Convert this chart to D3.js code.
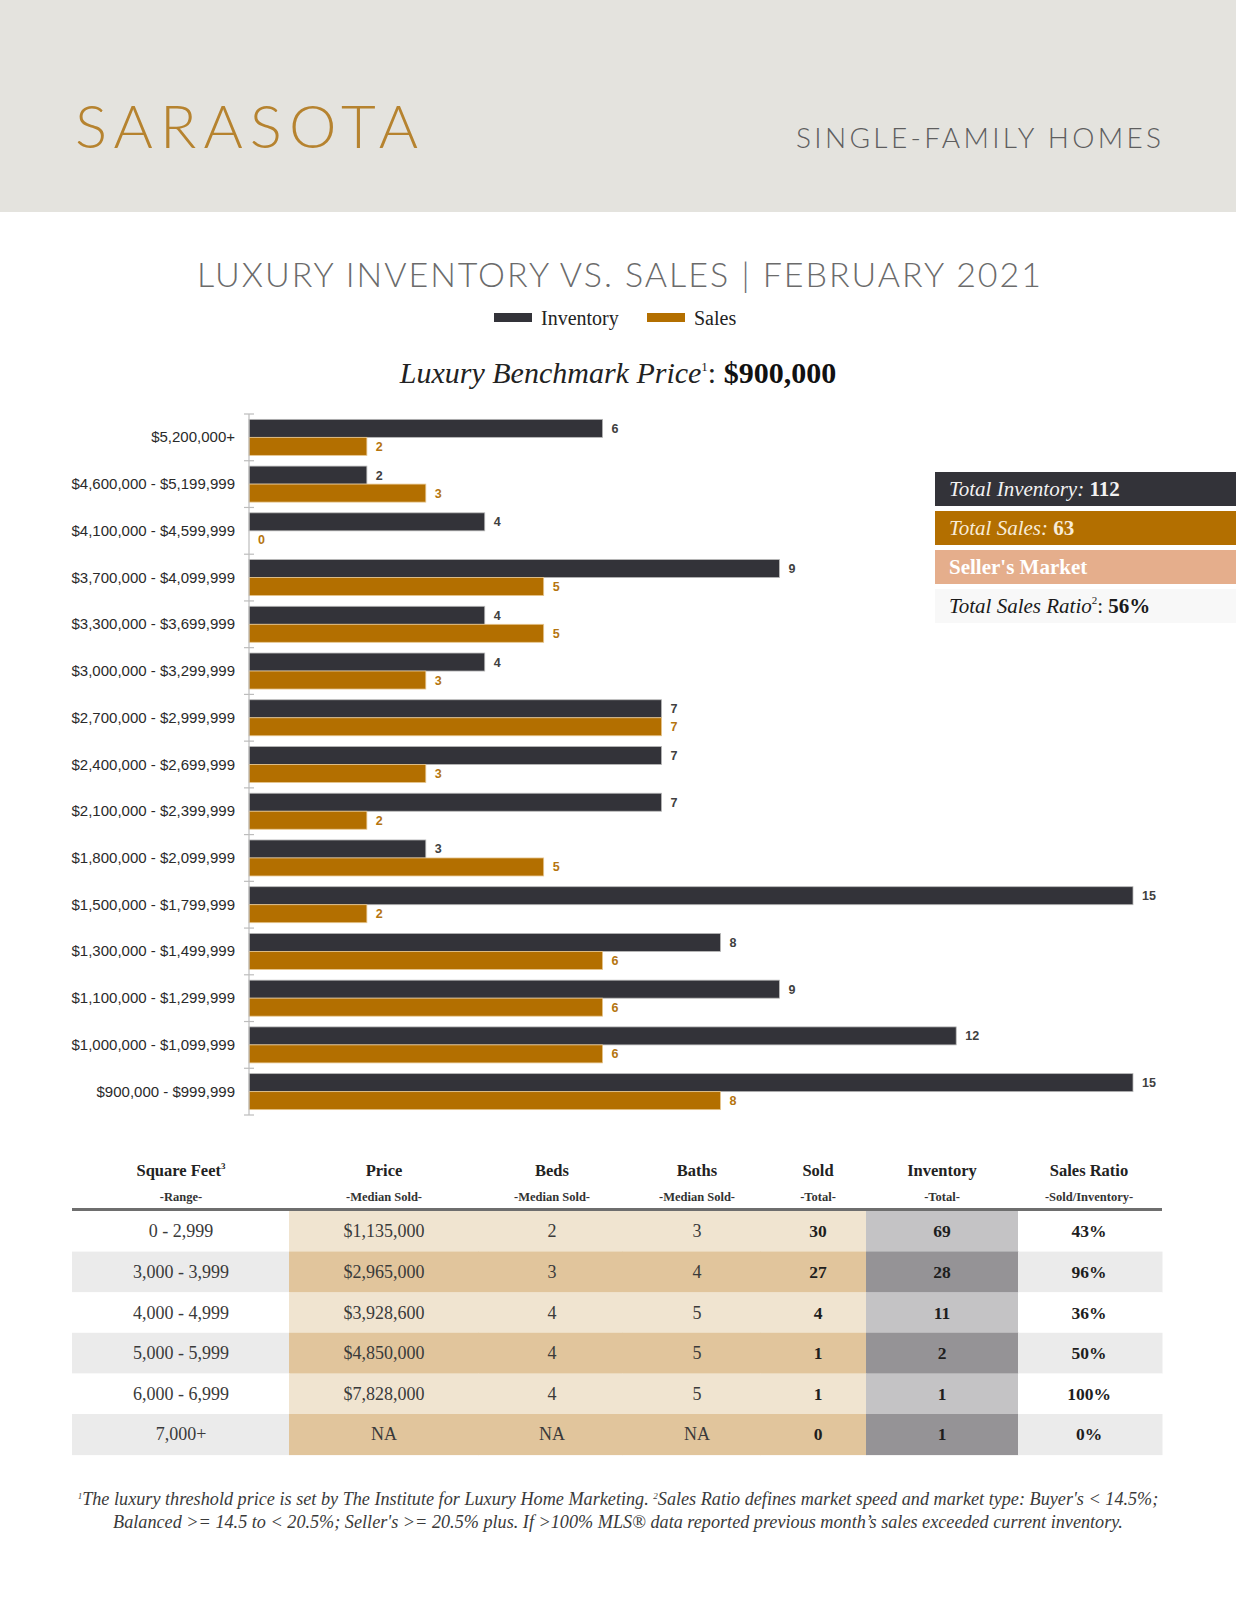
<!DOCTYPE html>
<html>
<head>
<meta charset="utf-8">
<script src="https://cdn.jsdelivr.net/npm/d3@7"></script>
<style>
  html, body { margin: 0; padding: 0; background: #ffffff; }
  svg { display: block; }
</style>
</head>
<body>
<svg id="chart" width="1236" height="1600"></svg>
<script>
// ---------------- DATA ----------------
const categories = [
  "$5,200,000+", "$4,600,000 - $5,199,999", "$4,100,000 - $4,599,999",
  "$3,700,000 - $4,099,999", "$3,300,000 - $3,699,999", "$3,000,000 - $3,299,999",
  "$2,700,000 - $2,999,999", "$2,400,000 - $2,699,999", "$2,100,000 - $2,399,999",
  "$1,800,000 - $2,099,999", "$1,500,000 - $1,799,999", "$1,300,000 - $1,499,999",
  "$1,100,000 - $1,299,999", "$1,000,000 - $1,099,999", "$900,000 - $999,999"
];
const inventory = [6, 2, 4, 9, 4, 4, 7, 7, 7, 3, 15, 8, 9, 12, 15];
const sales     = [2, 3, 0, 5, 5, 3, 7, 3, 2, 5, 2, 6, 6, 6, 8];
const seriesNames = ["Inventory", "Sales"];

const totalInventory = 112;
const totalSales = 63;
const marketType = "Seller's Market";
const totalSalesRatio = "56%";
const benchmarkPrice = "$900,000";

const tableHeaders = ["Square Feet", "Price", "Beds", "Baths", "Sold", "Inventory", "Sales Ratio"];
const tableSubHeaders = ["-Range-", "-Median Sold-", "-Median Sold-", "-Median Sold-", "-Total-", "-Total-", "-Sold/Inventory-"];
const sqftRanges   = ["0 - 2,999", "3,000 - 3,999", "4,000 - 4,999", "5,000 - 5,999", "6,000 - 6,999", "7,000+"];
const medianPrice  = ["$1,135,000", "$2,965,000", "$3,928,600", "$4,850,000", "$7,828,000", "NA"];
const medianBeds   = ["2", "3", "4", "4", "4", "NA"];
const medianBaths  = ["3", "4", "5", "5", "5", "NA"];
const soldTotal    = [30, 27, 4, 1, 1, 0];
const inventoryTotal = [69, 28, 11, 2, 1, 1];
const salesRatio   = ["43%", "96%", "36%", "50%", "100%", "0%"];

// ---------------- STYLE ----------------
const C = {
  band: "#e4e3de", gold: "#b6832f", grayTitle: "#6b6b6b",
  inv: "#333339", sal: "#b36f00", peach: "#e5ae8c",
  invLabel: "#404040", salLabel: "#b5750f"
};
const SERIF = "'Liberation Serif', 'DejaVu Serif', serif";
const SANS = "'Liberation Sans', Arial, sans-serif";
const THIN = "Lato, 'Open Sans', sans-serif";

const svg = d3.select("#chart");

// ---------------- HEADER ----------------
svg.append("rect").attr("x", 0).attr("y", 0).attr("width", 1236).attr("height", 212).attr("fill", C.band);
svg.append("text").attr("x", 75).attr("y", 148).text("SARASOTA")
  .attr("font-family", THIN).attr("font-weight", 300).attr("font-size", 60)
  .attr("fill", C.gold).attr("textLength", 343).attr("lengthAdjust", "spacing");
svg.append("text").attr("x", 796).attr("y", 148).text("SINGLE-FAMILY HOMES")
  .attr("font-family", THIN).attr("font-weight", 300).attr("font-size", 28)
  .attr("fill", "#5e5e5e").attr("textLength", 365).attr("lengthAdjust", "spacing");

// ---------------- TITLE / LEGEND ----------------
svg.append("text").attr("x", 197).attr("y", 287).text("LUXURY INVENTORY VS. SALES | FEBRUARY 2021")
  .attr("font-family", THIN).attr("font-weight", 300).attr("font-size", 34)
  .attr("fill", C.grayTitle).attr("textLength", 844).attr("lengthAdjust", "spacing");

const legendItems = [
  {name: seriesNames[0], color: C.inv, x: 494},
  {name: seriesNames[1], color: C.sal, x: 647}
];
const lg = svg.append("g").attr("font-family", SERIF).attr("font-size", 20).attr("fill", "#222");
legendItems.forEach(d => {
  lg.append("rect").attr("x", d.x).attr("y", 313).attr("width", 38).attr("height", 9).attr("fill", d.color);
  lg.append("text").attr("x", d.x + 47).attr("y", 325).text(d.name);
});

const bm = svg.append("text").attr("x", 618).attr("y", 383).attr("text-anchor", "middle")
  .attr("font-family", SERIF).attr("font-size", 30).attr("fill", "#222");
bm.append("tspan").attr("font-style", "italic").text("Luxury Benchmark Price");
bm.append("tspan").attr("font-size", 13).attr("dy", -12).text("1");
bm.append("tspan").attr("dy", 12).text(": ");
bm.append("tspan").attr("font-weight", "bold").attr("fill", "#111").text(benchmarkPrice);

// ---------------- BAR CHART ----------------
const x = d3.scaleLinear().domain([0, 15]).range([249, 1133]);
const y = d3.scaleBand().domain(categories).range([414, 1115]);
const bw = y.bandwidth();
const barH = 18;
const sub = d3.scaleBand().domain(seriesNames).range([(bw - 2 * barH) / 2, (bw + 2 * barH) / 2]);

const rows = categories.map((c, i) => ({cat: c, inv: inventory[i], sal: sales[i]}));

const chart = svg.append("g");
// category labels
chart.selectAll("text.cat").data(rows).join("text").attr("class", "cat")
  .attr("x", 235).attr("y", d => y(d.cat) + bw / 2 + 5)
  .attr("text-anchor", "end").attr("font-family", SANS).attr("font-size", 15)
  .attr("fill", "#2a2a2a").text(d => d.cat);

// bars
chart.selectAll("rect.inv").data(rows).join("rect").attr("class", "inv")
  .attr("x", x(0)).attr("y", d => y(d.cat) + sub("Inventory"))
  .attr("width", d => x(d.inv) - x(0)).attr("height", barH)
  .attr("fill", C.inv).attr("stroke", "#b8b8b8").attr("stroke-width", 0.8);
chart.selectAll("rect.sal").data(rows).join("rect").attr("class", "sal")
  .attr("x", x(0)).attr("y", d => y(d.cat) + sub("Sales"))
  .attr("width", d => x(d.sal) - x(0)).attr("height", barH)
  .attr("fill", C.sal).attr("stroke", d => d.sal > 0 ? "#e7c690" : "none").attr("stroke-width", 0.8);

// axis line + cross ticks at band boundaries
const boundaries = d3.range(categories.length + 1).map(i => 414 + i * bw);
chart.append("line").attr("x1", x(0)).attr("x2", x(0)).attr("y1", 414).attr("y2", 1115)
  .attr("stroke", "#bdbdbd").attr("stroke-width", 1.2);
chart.selectAll("line.tk").data(boundaries).join("line").attr("class", "tk")
  .attr("x1", x(0) - 5).attr("x2", x(0) + 5).attr("y1", d => d).attr("y2", d => d)
  .attr("stroke", "#bdbdbd").attr("stroke-width", 1.2);

// value labels
chart.selectAll("text.vi").data(rows).join("text").attr("class", "vi")
  .attr("x", d => x(d.inv) + 9).attr("y", d => y(d.cat) + sub("Inventory") + barH / 2 + 4.5)
  .attr("font-family", SANS).attr("font-weight", "bold").attr("font-size", 12.5)
  .attr("fill", C.invLabel).text(d => d.inv);
chart.selectAll("text.vs").data(rows).join("text").attr("class", "vs")
  .attr("x", d => x(d.sal) + 9).attr("y", d => y(d.cat) + sub("Sales") + barH / 2 + 4.5)
  .attr("font-family", SANS).attr("font-weight", "bold").attr("font-size", 12.5)
  .attr("fill", C.salLabel).text(d => d.sal);

// ---------------- SUMMARY BOX ----------------
const box = svg.append("g").attr("font-family", SERIF).attr("font-size", 21);
const boxRows = [
  {y: 472, fill: C.inv, color: "#f2f2f2", parts: [["Total Inventory:", "italic", "normal"], [" " + totalInventory, "normal", "bold"]]},
  {y: 511, fill: C.sal, color: "#f8ecd8", parts: [["Total Sales:", "italic", "normal"], [" " + totalSales, "normal", "bold"]]},
  {y: 550, fill: C.peach, color: "#ffffff", parts: [[marketType, "normal", "bold"]]},
  {y: 589, fill: "#f8f8f8", color: "#1a1a1a", parts: [["Total Sales Ratio", "italic", "normal"], ["2", "normal", "normal", true], [": ", "normal", "normal"], [totalSalesRatio, "normal", "bold"]]}
];
boxRows.forEach(r => {
  box.append("rect").attr("x", 935).attr("y", r.y).attr("width", 301).attr("height", 34).attr("fill", r.fill);
  const t = box.append("text").attr("x", 949).attr("y", r.y + 24).attr("fill", r.color);
  let raised = false;
  r.parts.forEach(p => {
    const ts = t.append("tspan").attr("font-style", p[1]).attr("font-weight", p[2]).text(p[0]);
    if (p[3]) { ts.attr("font-size", 11).attr("dy", -9); raised = true; }
    else if (raised) { ts.attr("dy", 9); raised = false; }
  });
});

// ---------------- TABLE ----------------
const colEdges = [72, 289, 478, 622, 760, 866, 1018, 1162];
const colCenters = [181, 384, 552, 697, 818, 942, 1089];
const rowTop = 1211, rowH = 40.6;
const tbl = svg.append("g");
const nRows = sqftRanges.length;
for (let i = 0; i < nRows; i++) {
  const even = i % 2 === 1;
  const yy = rowTop + i * rowH;
  const fills = [
    even ? "#ebebeb" : "#ffffff",
    even ? "#e1c59c" : "#f0e4d0",
    even ? "#e1c59c" : "#f0e4d0",
    even ? "#e1c59c" : "#f0e4d0",
    even ? "#e1c59c" : "#f0e4d0",
    even ? "#959396" : "#c4c3c5",
    even ? "#ebebeb" : "#ffffff"
  ];
  fills.forEach((f, c) => {
    tbl.append("rect").attr("x", colEdges[c]).attr("y", yy).attr("width", colEdges[c + 1] - colEdges[c] + 0.5)
      .attr("height", rowH + 0.5).attr("fill", f);
  });
  const vals = [sqftRanges[i], medianPrice[i], medianBeds[i], medianBaths[i], soldTotal[i], inventoryTotal[i], salesRatio[i]];
  vals.forEach((v, c) => {
    const bold = c >= 4;
    tbl.append("text").attr("x", colCenters[c]).attr("y", yy + rowH / 2 + 6)
      .attr("text-anchor", "middle").attr("font-family", SERIF)
      .attr("font-size", bold ? 17.5 : 18).attr("font-weight", bold ? "bold" : "normal")
      .attr("fill", bold ? "#1e1e1e" : "#3a3a3a").text(v);
  });
}
tableHeaders.forEach((h, c) => {
  const t = tbl.append("text").attr("x", colCenters[c]).attr("y", 1176).attr("text-anchor", "middle")
    .attr("font-family", SERIF).attr("font-size", 16.5).attr("font-weight", "bold").attr("fill", "#222");
  t.append("tspan").text(h);
  if (c === 0) t.append("tspan").attr("font-size", 9).attr("dy", -7).text("3");
  tbl.append("text").attr("x", colCenters[c]).attr("y", 1201).attr("text-anchor", "middle")
    .attr("font-family", SERIF).attr("font-size", 12.5).attr("font-weight", "bold").attr("fill", "#333")
    .text(tableSubHeaders[c]);
});
tbl.append("rect").attr("x", 72).attr("y", 1208).attr("width", 1090).attr("height", 3).attr("fill", "#6e6e6e");

// ---------------- FOOTNOTE ----------------
const fn = svg.append("g").attr("font-family", SERIF).attr("font-style", "italic").attr("font-size", 18.2).attr("fill", "#3a3a3a");
const f1 = fn.append("text").attr("x", 618).attr("y", 1505).attr("text-anchor", "middle");
f1.append("tspan").attr("font-size", 9).attr("dy", -6).text("1");
f1.append("tspan").attr("dy", 6).text("The luxury threshold price is set by The Institute for Luxury Home Marketing. ");
f1.append("tspan").attr("font-size", 9).attr("dy", -6).text("2");
f1.append("tspan").attr("dy", 6).text("Sales Ratio defines market speed and market type: Buyer's < 14.5%;");
fn.append("text").attr("x", 618).attr("y", 1528).attr("text-anchor", "middle")
  .text("Balanced >= 14.5 to < 20.5%; Seller's >= 20.5% plus. If >100% MLS® data reported previous month’s sales exceeded current inventory.");
</script>
</body>
</html>
